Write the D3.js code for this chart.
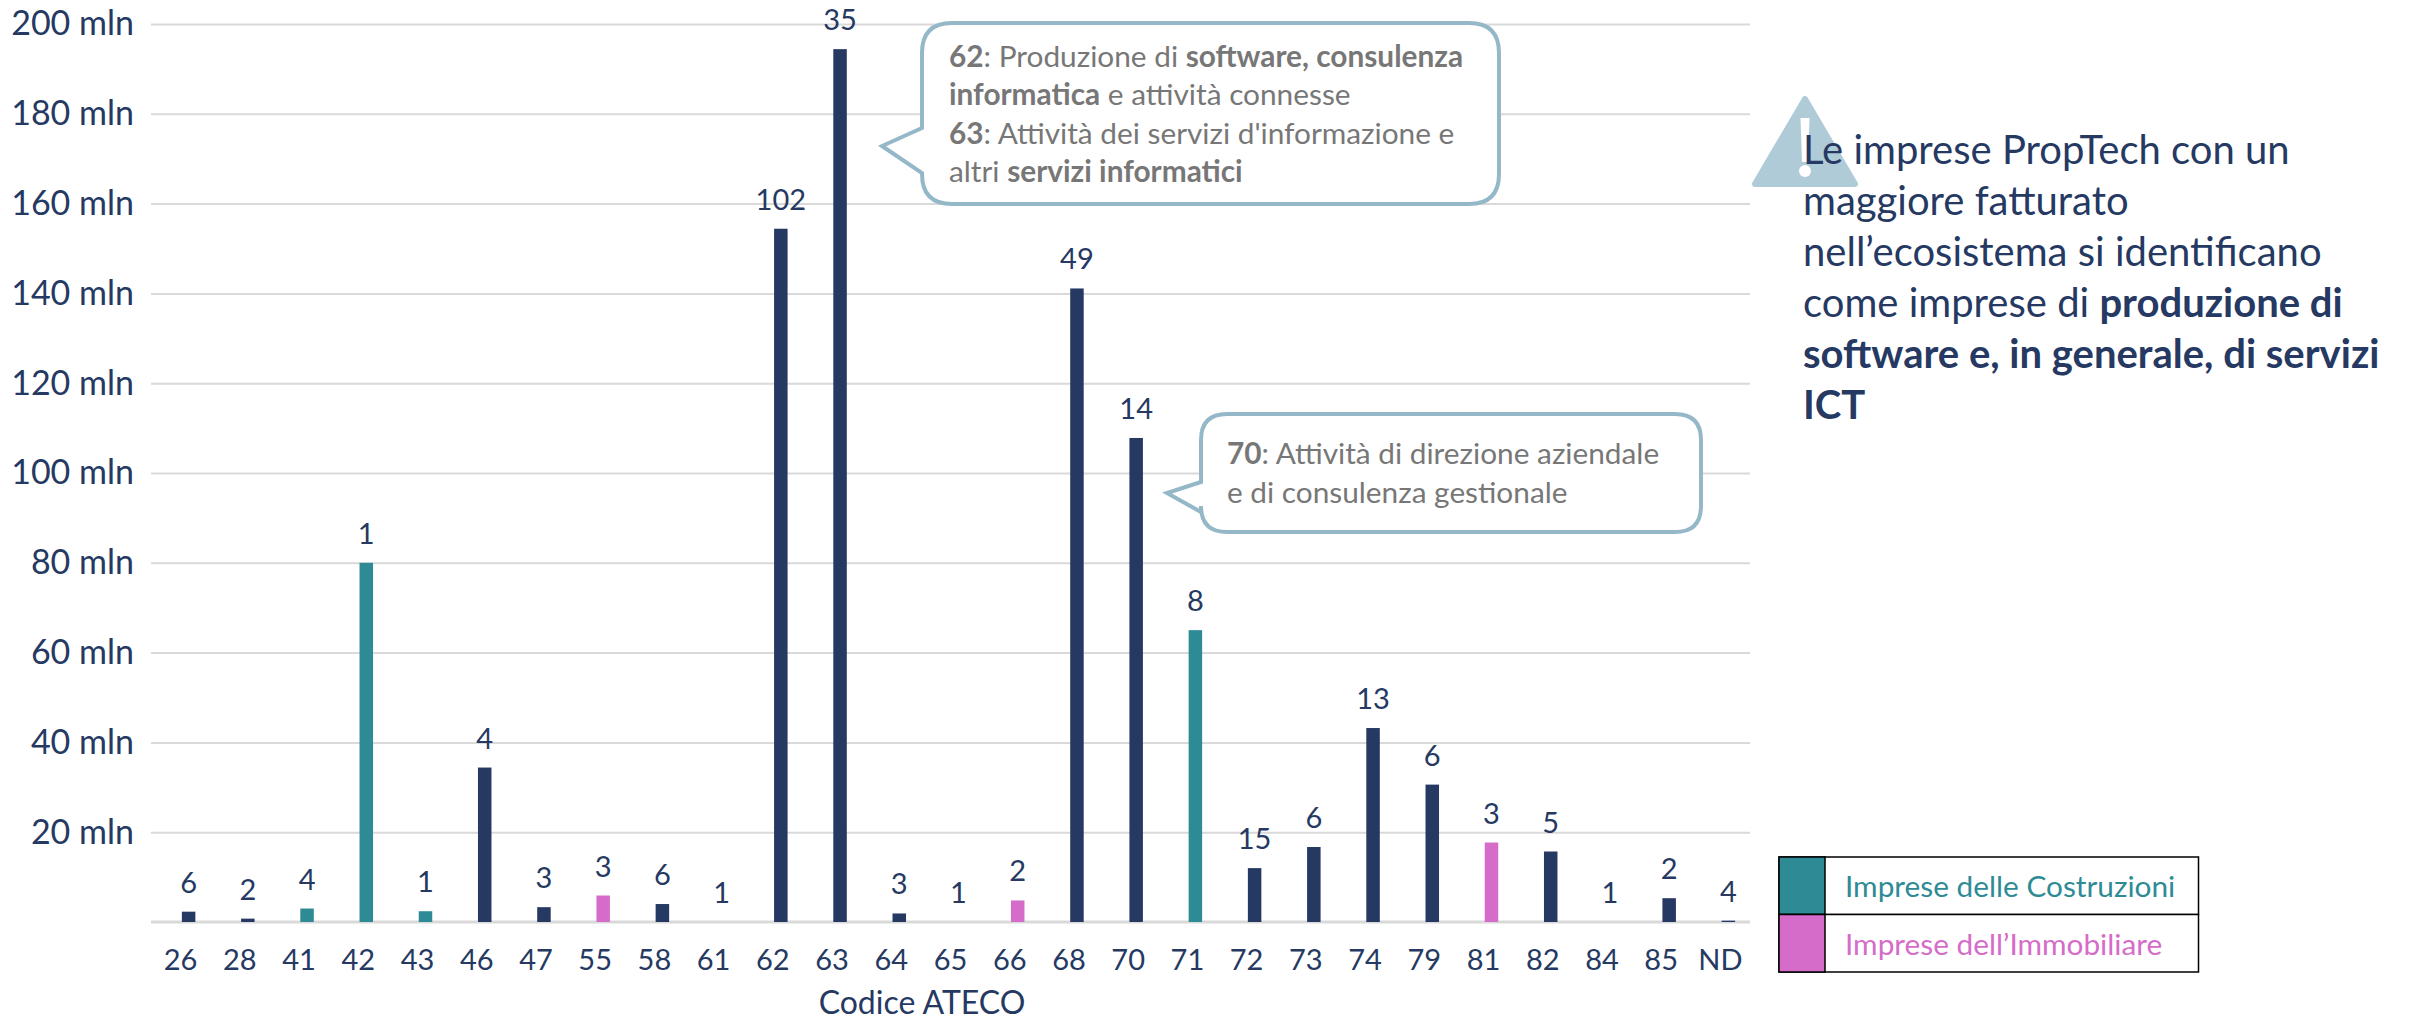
<!DOCTYPE html>
<html>
<head>
<meta charset="utf-8">
<script src="https://cdn.jsdelivr.net/npm/d3@7"></script>
<style>
  html, body { margin: 0; padding: 0; background: #fff; }
  svg { display: block; font-family: Lato, "Open Sans", sans-serif; }
  .domain { display: none; }
</style>
</head>
<body>
<div id="chart"></div>
<script>
var codes = ["26","28","41","42","43","46","47","55","58","61","62","63","64","65","66","68","70","71","72","73","74","79","81","82","84","85","ND"];
var fatturato = [2.3,0.75,3,80,2.4,34.4,3.3,5.9,4,0,154.4,194.4,1.9,0,4.8,141.1,107.8,65,12,16.7,43.2,30.6,17.7,15.7,0,5.3,0.3];
var imprese = [6,2,4,1,1,4,3,3,6,1,102,35,3,1,2,49,14,8,15,6,13,6,3,5,1,2,4];
var settori = ["ict","ict","cos","cos","cos","ict","ict","imm","ict","ict","ict","ict","ict","ict","imm","ict","ict","cos","ict","ict","ict","ict","imm","ict","ict","ict","ict"];
var yTicks = [20,40,60,80,100,120,140,160,180,200];
var legendLabels = ["Imprese delle Costruzioni", "Imprese dell\u2019Immobiliare"];
var legendKeys = ["cos", "imm"];

var svgWidth = 2410;
var svgHeight = 1020;
var margin = { top: 24, right: 660, bottom: 98, left: 151 };
var width = svgWidth - margin.left - margin.right;
var height = svgHeight - margin.top - margin.bottom;

var navy = "#253962";
var colors = { ict: navy, cos: "#2E8B96", imm: "#D66CC9" };
var calloutBlue = "#95B8C9";
var calloutText = "#777777";

var svg = d3.select("#chart")
  .append("svg")
  .attr("width", svgWidth)
  .attr("height", svgHeight);

var chartGroup = svg.append("g")
  .attr("transform", `translate(${margin.left}, ${margin.top})`);

var x = d3.scaleBand().domain(codes).range([0, width]);
var y = d3.scaleLinear().domain([0, 200]).range([height, 0]);

var barOffset = 8;
var barWidth = 13.5;

// gridlines come from the left axis ticks
var leftAxis = d3.axisLeft(y)
  .tickValues(yTicks)
  .tickSize(-width)
  .tickPadding(17)
  .tickFormat(d => d + " mln");

var yAxisG = chartGroup.append("g").call(leftAxis).attr("font-family", null);
yAxisG.selectAll("line").attr("stroke", "#D9D9D9").attr("stroke-width", 2);
yAxisG.selectAll("text")
  .attr("fill", navy)
  .style("font-size", "34px");

var bottomAxis = d3.axisBottom(x).tickSize(0).tickPadding(27);
var xAxisG = chartGroup.append("g")
  .attr("transform", `translate(0, ${height})`)
  .call(bottomAxis)
  .attr("font-family", null);
xAxisG.selectAll("text")
  .attr("fill", navy)
  .style("font-size", "29px");

chartGroup.append("line")
  .attr("x1", 0)
  .attr("x2", width)
  .attr("y1", y(0))
  .attr("y2", y(0))
  .attr("stroke", "#D9D9D9")
  .attr("stroke-width", 3);

chartGroup.selectAll("rect.bar")
  .data(codes)
  .enter()
  .append("rect")
  .attr("class", "bar")
  .attr("x", d => x(d) + x.bandwidth() / 2 + barOffset - barWidth / 2)
  .attr("y", (d, i) => y(fatturato[i]))
  .attr("width", barWidth)
  .attr("height", (d, i) => y(0) - y(fatturato[i]))
  .attr("fill", (d, i) => colors[settori[i]]);

chartGroup.selectAll("text.count")
  .data(codes)
  .enter()
  .append("text")
  .attr("class", "count")
  .attr("x", d => x(d) + x.bandwidth() / 2 + barOffset)
  .attr("y", (d, i) => y(fatturato[i]) - 19)
  .attr("text-anchor", "middle")
  .attr("fill", navy)
  .style("font-size", "29px")
  .text((d, i) => imprese[i]);

chartGroup.append("text")
  .attr("x", 922 - margin.left)
  .attr("y", height + 92)
  .attr("text-anchor", "middle")
  .attr("fill", navy)
  .style("font-size", "32px")
  .text("Codice ATECO");

// runs of [text, bold]
function richText(parent, px, py, runs, size, fill) {
  var t = parent.append("text")
    .attr("x", px)
    .attr("y", py)
    .attr("fill", fill)
    .style("font-size", size + "px");
  runs.forEach(function(r) {
    t.append("tspan")
      .attr("font-weight", r[1] ? 700 : 400)
      .text(r[0]);
  });
}

function callout(box, tip, r) {
  var p = d3.path();
  p.moveTo(box.x + r, box.y);
  p.lineTo(box.x + box.w - r, box.y);
  p.quadraticCurveTo(box.x + box.w, box.y, box.x + box.w, box.y + r);
  p.lineTo(box.x + box.w, box.y + box.h - r);
  p.quadraticCurveTo(box.x + box.w, box.y + box.h, box.x + box.w - r, box.y + box.h);
  p.lineTo(box.x + r, box.y + box.h);
  p.quadraticCurveTo(box.x, box.y + box.h, box.x, box.y + box.h - r);
  p.lineTo(box.x, tip.y2);
  p.lineTo(tip.x, tip.y);
  p.lineTo(box.x, tip.y1);
  p.lineTo(box.x, box.y + r);
  p.quadraticCurveTo(box.x, box.y, box.x + r, box.y);
  p.closePath();
  svg.append("path")
    .attr("d", p.toString())
    .attr("fill", "#fff")
    .attr("stroke", calloutBlue)
    .attr("stroke-width", 4);
}

var calloutSize = 29.8;
callout({ x: 922, y: 23, w: 577, h: 181 }, { x: 882, y: 146, y1: 128, y2: 173 }, 30);
richText(svg, 949, 67, [["62", true], [": Produzione di ", false], ["software, consulenza", true]], calloutSize, calloutText);
richText(svg, 949, 105, [["informatica", true], [" e attività connesse", false]], calloutSize, calloutText);
richText(svg, 949, 144, [["63", true], [": Attività dei servizi d'informazione e", false]], calloutSize, calloutText);
richText(svg, 949, 182, [["altri ", false], ["servizi informatici", true]], calloutSize, calloutText);

callout({ x: 1201, y: 414, w: 500, h: 118 }, { x: 1167, y: 493, y1: 482, y2: 512 }, 26);
richText(svg, 1227, 464, [["70", true], [": Attività di direzione aziendale", false]], calloutSize, calloutText);
richText(svg, 1227, 503, [["e di consulenza gestionale", false]], calloutSize, calloutText);

// warning sign
svg.append("path")
  .attr("d", "M1805 99 L1855 184 L1755 184 Z")
  .attr("fill", "#B0CBD8")
  .attr("stroke", "#B0CBD8")
  .attr("stroke-width", 6)
  .attr("stroke-linejoin", "round");
svg.append("path")
  .attr("d", "M1800.5 118 H1809.5 L1808 162 H1802 Z")
  .attr("fill", "#fff");
svg.append("circle")
  .attr("cx", 1805)
  .attr("cy", 171)
  .attr("r", 6)
  .attr("fill", "#fff");

var noteSize = 40;
richText(svg, 1803, 164, [["Le imprese PropTech con un", false]], noteSize, navy);
richText(svg, 1803, 215, [["maggiore fatturato", false]], noteSize, navy);
richText(svg, 1803, 266, [["nell\u2019ecosistema si identificano", false]], noteSize, navy);
richText(svg, 1803, 317, [["come imprese di ", false], ["produzione di", true]], noteSize, navy);
richText(svg, 1803, 368, [["software e, in generale, di servizi", true]], noteSize, navy);
richText(svg, 1803, 419, [["ICT", true]], noteSize, navy);

// legend table
var legendY = d3.scaleBand().domain(legendKeys).range([857, 972]);
var legend = svg.selectAll("g.legend")
  .data(legendKeys)
  .enter()
  .append("g")
  .attr("class", "legend")
  .attr("transform", d => `translate(1779, ${legendY(d)})`);
legend.append("rect")
  .attr("width", 419.5)
  .attr("height", legendY.bandwidth())
  .attr("fill", "#fff")
  .attr("stroke", "#000")
  .attr("stroke-width", 1.5);
legend.append("rect")
  .attr("width", 46)
  .attr("height", legendY.bandwidth())
  .attr("fill", d => colors[d])
  .attr("stroke", "#000")
  .attr("stroke-width", 1.5);
legend.append("text")
  .attr("x", 66)
  .attr("y", 40)
  .attr("fill", d => colors[d])
  .style("font-size", "29.8px")
  .text((d, i) => legendLabels[i]);
</script>
</body>
</html>
